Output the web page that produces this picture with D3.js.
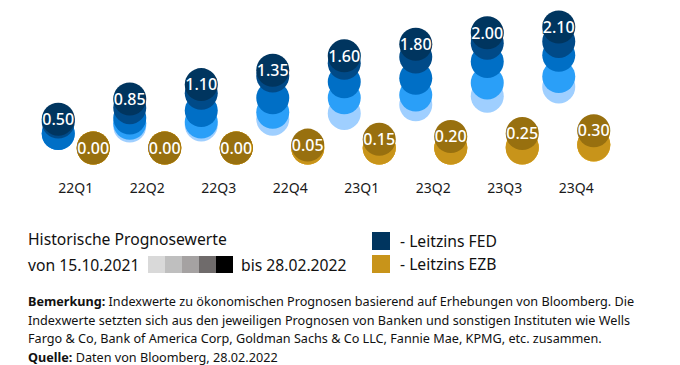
<!DOCTYPE html>
<html>
<head>
<meta charset="utf-8">
<script src="https://cdn.jsdelivr.net/npm/d3@7"></script>
<style>
  body { margin: 0; background: #fff; }
  svg { font-family: "Noto Sans", "Open Sans", sans-serif; }
</style>
</head>
<body>
<div id="chart"></div>
<script>
// Quarters and latest forecasts (28.02.2022)
var quarters = ['22Q1', '22Q2', '22Q3', '22Q4', '23Q1', '23Q2', '23Q3', '23Q4'];
var fedLatest = [0.50, 0.85, 1.10, 1.35, 1.60, 1.80, 2.00, 2.10];
var ezbLatest = [0.00, 0.00, 0.00, 0.05, 0.15, 0.20, 0.25, 0.30];

// Older forecasts per quarter, oldest (15.10.2021) first
var fedHistory = [
  [0.25, 0.25, 0.25, 0.45],
  [0.38, 0.43, 0.52, 0.70],
  [0.40, 0.45, 0.65, 0.95],
  [0.50, 0.62, 0.87, 1.25],
  [0.60, 0.87, 1.15, 1.47],
  [0.75, 0.92, 1.21, 1.58],
  [0.90, 1.13, 1.50, 1.82],
  [1.06, 1.24, 1.61, 1.85]
];
var ezbHistory = [
  [0.00, 0.00, 0.00, 0.00],
  [0.00, 0.00, 0.00, 0.00],
  [0.00, 0.00, 0.00, 0.00],
  [0.00, 0.00, 0.00, 0.00],
  [0.00, 0.00, 0.00, 0.00],
  [0.00, 0.00, 0.00, 0.00],
  [0.00, 0.00, 0.02, 0.00],
  [0.05, 0.05, 0.05, 0.06]
];

var fedColors = ['#9fcfff', '#2a9ff8', '#006fc6', '#004a88', '#00355f'];
var ezbColors = ['#f3d27e', '#ecbd4a', '#d9a526', '#c8941a', '#98700f'];
var historyGrays = ['#d9d9d9', '#bfbfbf', '#a5a2a2', '#6f6b6b', '#000000'];

var legendSeries = [
  {label: '- Leitzins FED', color: '#00355f'},
  {label: '- Leitzins EZB', color: '#c8941a'}
];
var noteLines = [
  {bold: 'Bemerkung:', text: ' Indexwerte zu ökonomischen Prognosen basierend auf Erhebungen von Bloomberg. Die'},
  {bold: '', text: 'Indexwerte setzten sich aus den jeweiligen Prognosen von Banken und sonstigen Instituten wie Wells'},
  {bold: '', text: 'Fargo & Co, Bank of America Corp, Goldman Sachs & Co LLC, Fannie Mae, KPMG, etc. zusammen.'},
  {bold: 'Quelle:', text: ' Daten von Bloomberg, 28.02.2022'}
];

var width = 680, height = 365;
var svg = d3.select('#chart').append('svg')
  .attr('width', width)
  .attr('height', height);

// Scales
var x = d3.scaleBand().domain(quarters).range([40, 612]);
var y = d3.scaleLinear().domain([0, 2.1]).range([148, 27]);
var r = 16.5;
var offset = 17.5;

// Build the circle list: for each quarter, history then latest
function stack(latest, history, colors, dx, series) {
  var out = [];
  quarters.forEach(function(q, i) {
    var vals = history[i].concat([latest[i]]);
    vals.forEach(function(v, k) {
      out.push({q: q, v: v, color: colors[k], dx: dx, last: k === vals.length - 1, series: series});
    });
  });
  return out;
}

var circles = stack(fedLatest, fedHistory, fedColors, -offset, 'fed')
  .concat(stack(ezbLatest, ezbHistory, ezbColors, offset, 'ezb'));

var g = svg.append('g');
g.selectAll('circle')
  .data(circles)
  .join('circle')
    .attr('cx', d => x(d.q) + x.bandwidth() / 2 + d.dx)
    .attr('cy', d => y(d.v))
    .attr('r', r)
    .attr('fill', d => d.color);

g.selectAll('text.val')
  .data(circles.filter(d => d.last))
  .join('text')
    .attr('class', 'val')
    .attr('x', d => x(d.q) + x.bandwidth() / 2 + d.dx)
    .attr('y', d => y(d.v))
    .attr('dy', '0.36em')
    .attr('text-anchor', 'middle')
    .attr('font-size', 16)
    .attr('font-weight', 500)
    .attr('fill', '#fff')
    .attr('stroke', d => d.color)
    .attr('stroke-width', 1.5)
    .attr('paint-order', 'stroke')
    .text(d => d3.format('.2f')(d.v));

// Category axis labels
var xAxis = svg.append('g')
  .attr('transform', 'translate(0,183)')
  .call(d3.axisBottom(x).tickSize(0).tickPadding(0));
xAxis.select('.domain').remove();
xAxis.selectAll('text')
  .attr('font-family', '"Noto Sans", sans-serif')
  .attr('font-size', 14)
  .attr('fill', '#1a1a1a');

// Legend: historical forecasts
var leg = svg.append('g').attr('font-size', 15.7).attr('fill', '#111');
leg.append('text').attr('x', 28).attr('y', 245).text('Historische Prognosewerte');
leg.append('text').attr('x', 28).attr('y', 271).text('von 15.10.2021');
leg.selectAll('rect.gray')
  .data(historyGrays)
  .join('rect')
    .attr('class', 'gray')
    .attr('x', (d, i) => 148 + i * 17)
    .attr('y', 256)
    .attr('width', 17)
    .attr('height', 17)
    .attr('fill', d => d);
leg.append('text').attr('x', 241).attr('y', 271).text('bis 28.02.2022');

// Legend: series
var sl = leg.selectAll('g.series')
  .data(legendSeries)
  .join('g')
    .attr('class', 'series')
    .attr('transform', (d, i) => 'translate(372,' + (232 + i * 23) + ')');
sl.append('rect').attr('width', 18).attr('height', 18).attr('fill', d => d.color);
sl.append('text').attr('x', 28).attr('y', 15).text(d => d.label);

// Note
var note = svg.append('g').attr('font-size', 12.65).attr('fill', '#111');
noteLines.forEach(function(line, i) {
  var t = note.append('text').attr('x', 28).attr('y', 306 + i * 18.7);
  if (line.bold) t.append('tspan').attr('font-weight', 700).text(line.bold);
  t.append('tspan').text(line.text);
});
</script>
</body>
</html>
